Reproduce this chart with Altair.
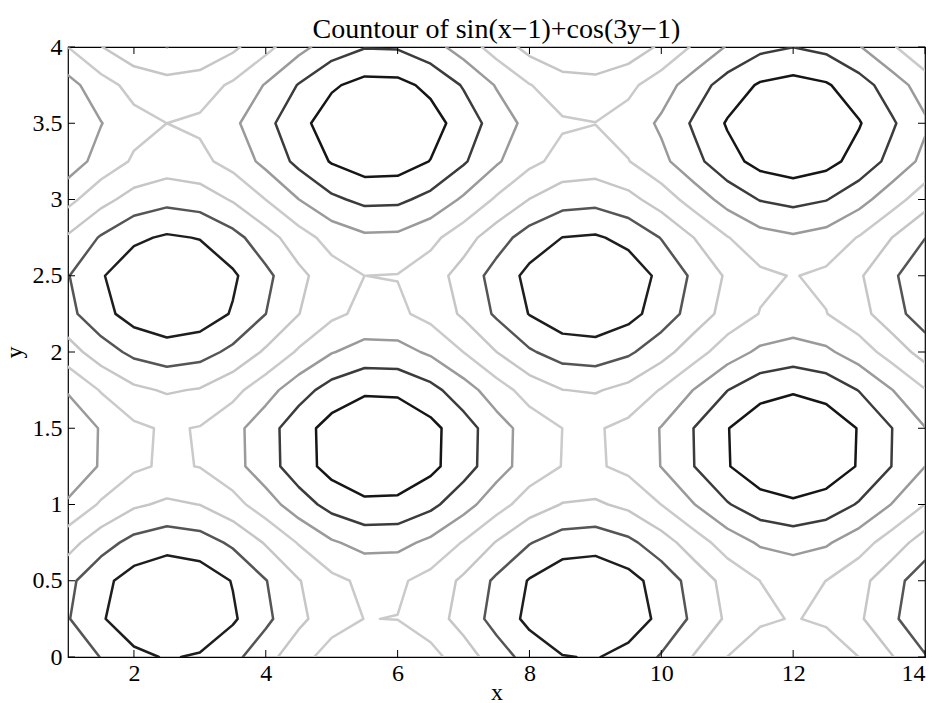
import math

import altair as alt
import pandas as pd

# Sampling grid of the surface
X_GRID = [1.0, 1.5, 2.0, 2.5, 3.0, 3.5, 4.0, 4.5, 5.0, 5.5, 6.0, 6.5, 7.0, 7.5,
          8.0, 8.5, 9.0, 9.5, 10.0, 10.5, 11.0, 11.5, 12.0, 12.5, 13.0, 13.5, 14.0]
Y_GRID = [0.0, 0.25, 0.5, 0.75, 1.0, 1.25, 1.5, 1.75, 2.0, 2.25, 2.5, 2.75,
          3.0, 3.25, 3.5, 3.75, 4.0]

# Contour levels and the grey assigned to each
LEVELS = [-1.5, -1.0, -0.5, 0.0, 0.5, 1.0, 1.5]
LEVEL_COLORS = ["#161616", "#3c3c3c", "#9a9a9a", "#cacaca", "#c6c6c6", "#555555", "#1e1e1e"]

X_TICKS = [2, 4, 6, 8, 10, 12, 14]
Y_TICKS = [0, 0.5, 1, 1.5, 2, 2.5, 3, 3.5, 4]

TITLE = "Countour of sin(x\u22121)+cos(3y\u22121)"
SERIF = "Liberation Serif"
W, H = 857, 610


def surface(x, y):
    return math.sin(x - 1) + math.cos(3 * y - 1)


Z = [[surface(x, y) for x in X_GRID] for y in Y_GRID]  # Z[j][i]
NX, NY = len(X_GRID), len(Y_GRID)


def edge_point(edge, lev):
    kind, i, j = edge
    if kind == "h":  # between (i, j) and (i+1, j)
        za, zb = Z[j][i], Z[j][i + 1]
        t = (lev - za) / (zb - za)
        return X_GRID[i] + t * (X_GRID[i + 1] - X_GRID[i]), Y_GRID[j]
    za, zb = Z[j][i], Z[j + 1][i]  # between (i, j) and (i, j+1)
    t = (lev - za) / (zb - za)
    return X_GRID[i], Y_GRID[j] + t * (Y_GRID[j + 1] - Y_GRID[j])


def march(lev):
    """Marching squares: list of segments, each joining two cell edges."""
    segs = []
    for j in range(NY - 1):
        for i in range(NX - 1):
            c = [Z[j][i], Z[j][i + 1], Z[j + 1][i + 1], Z[j + 1][i]]
            above = [v >= lev for v in c]
            edges = [("h", i, j), ("v", i + 1, j), ("h", i, j + 1), ("v", i, j)]
            crossed = [k for k in range(4) if above[k] != above[(k + 1) % 4]]
            if len(crossed) == 2:
                segs.append((edges[crossed[0]], edges[crossed[1]]))
            elif len(crossed) == 4:
                centre = sum(c) / 4.0
                if (centre >= lev) == above[0]:
                    segs += [(edges[0], edges[1]), (edges[2], edges[3])]
                else:
                    segs += [(edges[3], edges[0]), (edges[1], edges[2])]
    return segs


def chain(segs):
    """Join segments sharing an edge into polylines."""
    adj = {}
    for k, (a, b) in enumerate(segs):
        adj.setdefault(a, []).append(k)
        adj.setdefault(b, []).append(k)
    used = [False] * len(segs)
    starts = [e for e, ks in adj.items() if len(ks) == 1] + list(adj.keys())
    paths = []
    for s in starts:
        if not any(not used[k] for k in adj[s]):
            continue
        path, cur = [s], s
        while True:
            nxt = [k for k in adj[cur] if not used[k]]
            if not nxt:
                break
            k = nxt[0]
            used[k] = True
            a, b = segs[k]
            cur = b if a == cur else a
            path.append(cur)
        paths.append(path)
    return paths


rows = []
pid = 0
for lev in LEVELS:
    for path in chain(march(lev)):
        for seq, e in enumerate(path):
            px, py = edge_point(e, lev)
            rows.append({"x": px, "y": py, "level": lev, "path": pid, "seq": seq})
        pid += 1
contours = pd.DataFrame(rows)

x_scale = alt.Scale(domain=[1, 14], nice=False, zero=False)
y_scale = alt.Scale(domain=[0, 4], nice=False, zero=False)
x_axis = alt.Axis(values=X_TICKS, ticks=False, domain=False, grid=False,
                  labelPadding=4, titlePadding=-5)
y_axis = alt.Axis(values=Y_TICKS, ticks=False, domain=False, grid=False,
                  format="~g", labelPadding=6, titlePadding=6)
X_ENC = alt.X("x:Q", scale=x_scale, axis=x_axis, title="x")
Y_ENC = alt.Y("y:Q", scale=y_scale, axis=y_axis, title="y")

lines = alt.Chart(contours).mark_line(
    strokeWidth=2.5, strokeJoin="round", strokeCap="round", clip=True
).encode(
    x=X_ENC,
    y=Y_ENC,
    color=alt.Color("level:O", scale=alt.Scale(domain=LEVELS, range=LEVEL_COLORS), legend=None),
    detail="path:N",
    order="seq:Q",
)

# Inward tick marks on all four sides of the box
xt = pd.DataFrame({"x": X_TICKS})
yt = pd.DataFrame({"y": Y_TICKS})
tick_len = 7
ticks_bottom = alt.Chart(xt).mark_rule(color="black", strokeWidth=1).encode(
    x=X_ENC, y=alt.value(H), y2=alt.value(H - tick_len))
ticks_top = alt.Chart(xt).mark_rule(color="black", strokeWidth=1).encode(
    x=X_ENC, y=alt.value(0), y2=alt.value(tick_len))
ticks_left = alt.Chart(yt).mark_rule(color="black", strokeWidth=1).encode(
    y=Y_ENC, x=alt.value(0), x2=alt.value(tick_len))
ticks_right = alt.Chart(yt).mark_rule(color="black", strokeWidth=1).encode(
    y=Y_ENC, x=alt.value(W), x2=alt.value(W - tick_len))

chart = alt.layer(lines, ticks_bottom, ticks_top, ticks_left, ticks_right).properties(
    width=W, height=H,
    title=alt.TitleParams(TITLE, font=SERIF, fontSize=28, fontWeight="normal",
                          color="black", anchor="middle", frame="group", offset=2, dy=11),
    autosize=alt.AutoSizeParams(type="none"),
    padding={"left": 68, "top": 47, "right": 13, "bottom": 46},
    background="white",
).configure_view(
    stroke="black", strokeWidth=1.2
).configure_axis(
    labelFont=SERIF, labelFontSize=24, labelColor="black",
    titleFont=SERIF, titleFontSize=24, titleFontWeight="normal", titleColor="black",
)

chart.save("out.html", embed_options={"renderer": "svg", "actions": False})
